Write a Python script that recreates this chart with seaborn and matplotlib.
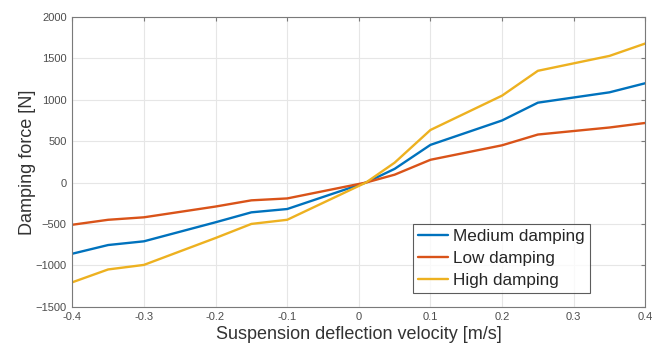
import matplotlib
matplotlib.use("Agg")
import matplotlib.pyplot as plt
import pandas as pd
import seaborn as sns

# velocity points [m/s] and damping forces [N]
velocidade = [-0.4, -0.35, -0.3, -0.2, -0.15, -0.1, 0.01, 0.05, 0.1, 0.2, 0.25, 0.35, 0.4]
forca_media = [-860, -755, -710, -480, -360, -320, 0, 165, 455, 750, 965, 1090, 1200]
forca_baixa = [-510, -450, -420, -290, -215, -192, 0, 95, 275, 450, 580, 665, 720]
forca_alta = [-1205, -1050, -995, -670, -500, -450, 0, 240, 635, 1050, 1350, 1530, 1680]

series = ["Medium damping", "Low damping", "High damping"]
cores = ["#0072BD", "#D95319", "#EDB120"]

xticks = [-0.4, -0.3, -0.2, -0.1, 0, 0.1, 0.2, 0.3, 0.4]
xtick_labels = ["-0.4", "-0.3", "-0.2", "-0.1", "0", "0.1", "0.2", "0.3", "0.4"]
yticks = [-1500, -1000, -500, 0, 500, 1000, 1500, 2000]

df = pd.concat(
    [
        pd.DataFrame({"v": velocidade, "F": f, "curva": nome})
        for nome, f in zip(series, [forca_media, forca_baixa, forca_alta])
    ]
)

sns.set_theme(style="white")
plt.rcParams["font.family"] = ["Liberation Sans", "DejaVu Sans"]

fig = plt.figure(figsize=(6.67, 3.52), dpi=100)
ax = fig.add_axes([0.1084, 0.1287, 0.8591, 0.823])

sns.lineplot(
    data=df, x="v", y="F", hue="curva", hue_order=series,
    palette=cores, linewidth=1.7, sort=False, ax=ax,
)

ax.set_xlim(-0.4, 0.4)
ax.set_ylim(-1500, 2000)
ax.set_xticks(xticks)
ax.set_xticklabels(xtick_labels)
ax.set_yticks(yticks)
ax.grid(True, color="#e6e6e6", linewidth=0.8)
ax.set_axisbelow(True)
for s in ax.spines.values():
    s.set_color("#7a7a7a")
    s.set_linewidth(0.8)
ax.tick_params(direction="in", length=3, width=0.8, color="#7a7a7a",
               labelsize=8, labelcolor="#4d4d4d", top=True, right=True, pad=4)
ax.set_xlabel("Suspension deflection velocity [m/s]", fontsize=13, color="#333333", labelpad=3)
ax.set_ylabel("Damping force [N]", fontsize=13, color="#333333", labelpad=0)

leg = ax.legend(
    loc="lower right", bbox_to_anchor=(0.9035, 0.046),
    fontsize=12.3, frameon=True, fancybox=False, handlelength=1.75,
    borderaxespad=0, labelspacing=0.42, handletextpad=0.3, borderpad=0.3,
)
leg.get_frame().set_edgecolor("#333333")
leg.get_frame().set_linewidth(0.8)
for t in leg.get_texts():
    t.set_color("#262626")

fig.savefig("out.png", dpi=100)
